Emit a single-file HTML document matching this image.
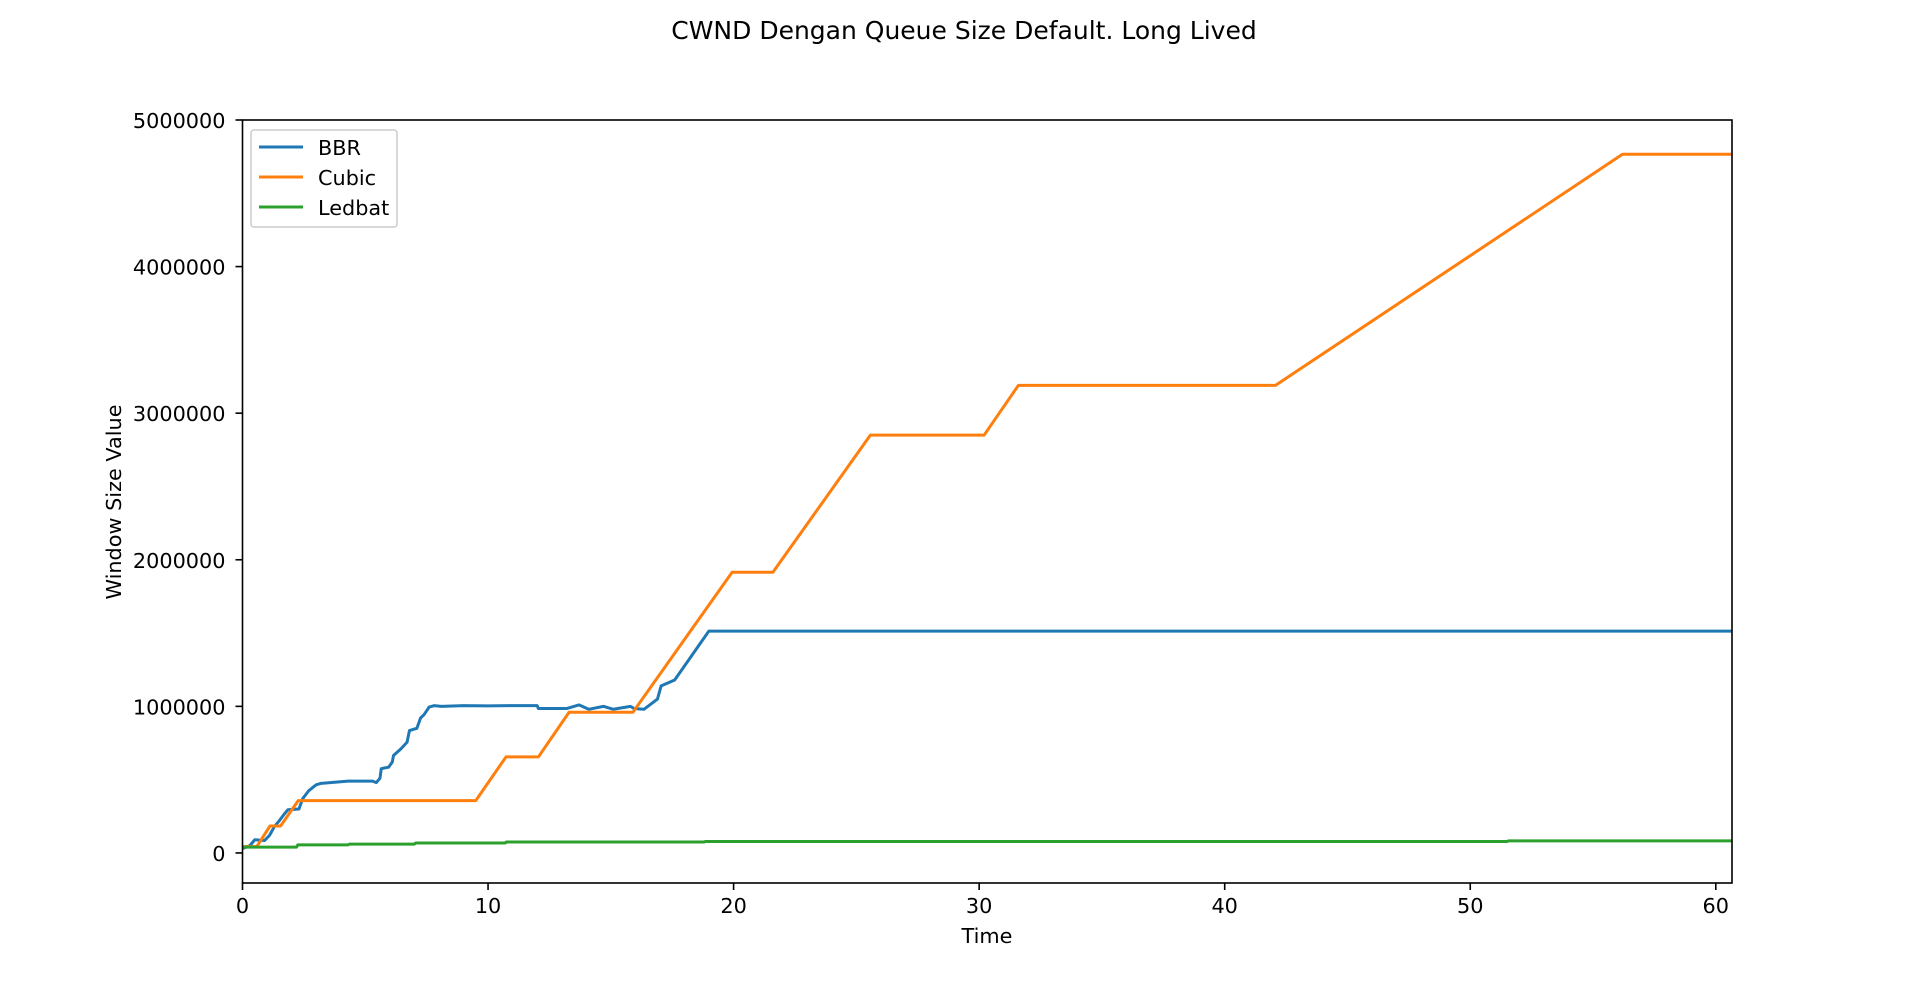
<!DOCTYPE html>
<html><head><meta charset="utf-8"><style>
html,body{margin:0;padding:0;background:#fff;}
svg{display:block;font-family:"DejaVu Sans","Liberation Sans",sans-serif;}
</style></head><body>
<svg id="chart" width="1924" height="993" viewBox="0 0 1924 993" xmlns="http://www.w3.org/2000/svg">
<rect width="1924" height="993" fill="#fff"/>
<text x="964" y="39" font-size="25" text-anchor="middle">CWND Dengan Queue Size Default. Long Lived</text>
<g id="series"></g>
<g id="axes"></g>
<text x="987" y="943" font-size="20.8" text-anchor="middle">Time</text>
<text transform="translate(121,502) rotate(-90)" font-size="20.8" text-anchor="middle">Window Size Value</text>
<g>
<rect x="251" y="130" width="146" height="97" rx="3" fill="#fff" fill-opacity="0.8" stroke="#ccc" stroke-width="1.5"/>
<line x1="259" y1="147" x2="303" y2="147" stroke="#1f77b4" stroke-width="3"/>
<text x="318" y="155" font-size="20.8">BBR</text>
<line x1="259" y1="177" x2="303" y2="177" stroke="#ff7f0e" stroke-width="3"/>
<text x="318" y="185" font-size="20.8">Cubic</text>
<line x1="259" y1="207" x2="303" y2="207" stroke="#2ca02c" stroke-width="3"/>
<text x="318" y="215" font-size="20.8">Ledbat</text>
</g>
</svg>
<script>
const bbrT=[0,0.3,0.5,0.9,1.1,1.3,1.5,1.7,1.85,2.3,2.45,2.7,3.0,3.2,4.3,5.3,5.45,5.6,5.65,5.95,6.1,6.15,6.45,6.7,6.8,7.1,7.25,7.4,7.6,7.8,8.1,9,10,11,12,12.05,13.2,13.7,14.1,14.7,15.1,15.8,15.95,16.35,16.9,17.05,17.6,18.99,60.66];
const bbrV=[30000,50000,90000,85000,120000,180000,220000,265000,295000,300000,370000,425000,465000,475000,490000,490000,480000,510000,575000,585000,620000,665000,710000,755000,835000,850000,920000,945000,995000,1005000,1000000,1005000,1003000,1005000,1005000,985000,985000,1010000,980000,1000000,980000,1000000,985000,980000,1050000,1140000,1180000,1513000,1513000];
const cubicT=[0,0.58,1.12,1.55,2.27,9.5,10.73,12.05,13.3,15.9,19.94,21.6,25.57,30.2,31.6,42.07,56.2,60.66];
const cubicV=[43000,43000,184000,184000,357000,357000,655000,655000,960000,960000,1915000,1915000,2850000,2850000,3190000,3190000,4766000,4766000];
const ledT=[0,2.2,2.25,4.3,4.35,7.0,7.05,10.7,10.75,18.8,18.85,51.5,51.55,60.66];
const ledV=[40000,40000,55000,55000,60000,60000,68000,68000,75000,75000,78000,78000,82000,82000];
const xTicks=[0,10,20,30,40,50,60];
const yTicks=[0,1000000,2000000,3000000,4000000,5000000];
const L=242.5,R=1732,T=120,B=883;
const xMin=0,xMax=60.66,yMin=-205000,yMax=5000000;
const sx=v=>L+(v-xMin)/(xMax-xMin)*(R-L);
const sy=v=>B-(v-yMin)/(yMax-yMin)*(B-T);
const NS="http://www.w3.org/2000/svg";
const g=document.getElementById('series');
function line(ts,vs,color,name){
  const p=document.createElementNS(NS,'polyline');
  p.setAttribute('points',ts.map((t,i)=>sx(t).toFixed(2)+','+sy(vs[i]).toFixed(2)).join(' '));
  p.setAttribute('fill','none');p.setAttribute('stroke',color);p.setAttribute('stroke-width','3');
  p.setAttribute('stroke-linejoin','round');
  
  
  g.appendChild(p);
}
line(bbrT,bbrV,'#1f77b4','bbr-line');
line(cubicT,cubicV,'#ff7f0e','cubic-line');
line(ledT,ledV,'#2ca02c','ledbat-line');
const a=document.getElementById('axes');
const fr=document.createElementNS(NS,'rect');
fr.setAttribute('x',L);fr.setAttribute('y',T);fr.setAttribute('width',R-L);fr.setAttribute('height',B-T);
fr.setAttribute('fill','none');fr.setAttribute('stroke','#000');fr.setAttribute('stroke-width','1.6');


a.appendChild(fr);
xTicks.forEach(t=>{
  const x=sx(t);
  const l=document.createElementNS(NS,'line');
  l.setAttribute('x1',x);l.setAttribute('x2',x);l.setAttribute('y1',B);l.setAttribute('y2',B+7);
  l.setAttribute('stroke','#000');l.setAttribute('stroke-width','1.6');
  
  
  a.appendChild(l);
  const tx=document.createElementNS(NS,'text');
  tx.setAttribute('x',x);tx.setAttribute('y',B+30);tx.setAttribute('font-size','20.8');tx.setAttribute('text-anchor','middle');
  tx.textContent=t;
  
  
  a.appendChild(tx);
});
yTicks.forEach(t=>{
  const y=sy(t);
  const l=document.createElementNS(NS,'line');
  l.setAttribute('x1',L-7);l.setAttribute('x2',L);l.setAttribute('y1',y);l.setAttribute('y2',y);
  l.setAttribute('stroke','#000');l.setAttribute('stroke-width','1.6');
  
  
  a.appendChild(l);
  const tx=document.createElementNS(NS,'text');
  tx.setAttribute('x',L-17);tx.setAttribute('y',y+8);tx.setAttribute('font-size','20.8');tx.setAttribute('text-anchor','end');
  tx.textContent=t;
  
  
  a.appendChild(tx);
});
</script>
</body></html>
